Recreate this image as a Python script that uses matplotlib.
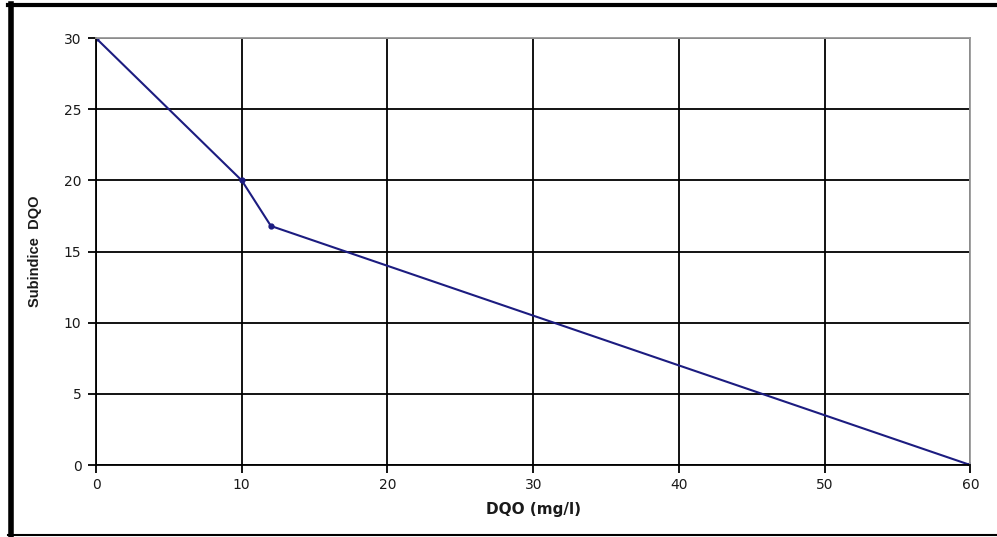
import matplotlib
matplotlib.use('Agg')
import matplotlib.pyplot as plt
from matplotlib.lines import Line2D

# DATA ==========================================================================================
dqo = [0, 10, 12, 60]
subindice = [30, 20, 16.8, 0]
x_ticks = [0, 10, 20, 30, 40, 50, 60]
y_ticks = [0, 5, 10, 15, 20, 25, 30]
# ===============================================================================================

plt.rcParams['font.family'] = ['DejaVu Sans']

fig = plt.figure(figsize=(9.97, 5.37), dpi=100)
ax = fig.add_axes([0.0963, 0.134, 0.877, 0.795])

ax.plot(dqo, subindice, color='#1c1c80', linewidth=1.5, marker='o', markersize=3.5)

ax.set_xlim(0, 60)
ax.set_ylim(0, 30)
ax.set_xticks(x_ticks)
ax.set_yticks(y_ticks)
ax.grid(True, color='black', linewidth=1.3)
ax.set_axisbelow(True)
ax.tick_params(labelsize=10, length=5.5, width=1.3, color='black', labelcolor='#1a1a1a')
ax.tick_params(axis='y', pad=5)
ax.tick_params(axis='x', pad=4)

for side in ['top', 'right']:
    ax.spines[side].set_color('#999999')
    ax.spines[side].set_linewidth(1.3)
for side in ['left', 'bottom']:
    ax.spines[side].set_color('black')
    ax.spines[side].set_linewidth(1.3)

ax.set_xlabel('DQO (mg/l)', fontsize=11, fontweight='bold', labelpad=7, color='#1a1a1a')
ax.set_ylabel('Subindice  DQO', fontsize=10.5, fontweight='bold', labelpad=16,
              family='Liberation Sans', color='#1a1a1a')

# outer frame around the figure
fig.add_artist(Line2D([0.011, 0.011], [0.0, 0.992], transform=fig.transFigure, color='black', linewidth=4))
fig.add_artist(Line2D([0.008, 1.0], [0.990, 0.990], transform=fig.transFigure, color='black', linewidth=3))
fig.add_artist(Line2D([0.008, 1.0], [0.004, 0.004], transform=fig.transFigure, color='black', linewidth=1.5))

plt.savefig('out.png', dpi=100)
